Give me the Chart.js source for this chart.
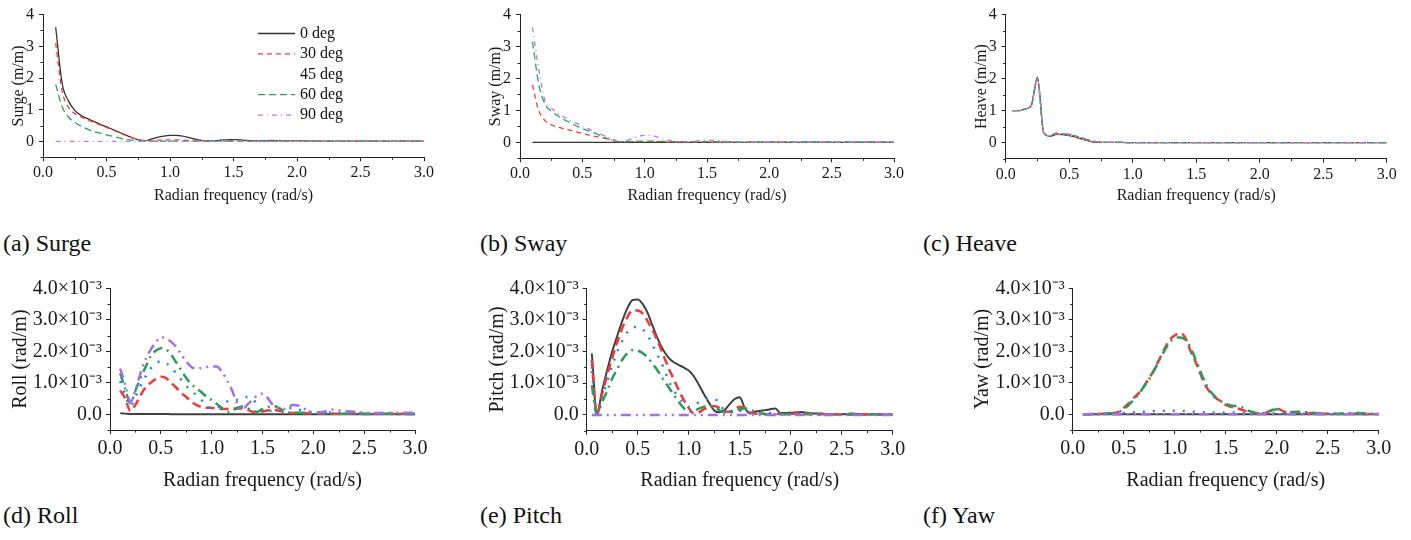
<!DOCTYPE html>
<html>
<head>
<meta charset="utf-8">
<script src="https://cdn.jsdelivr.net/npm/chart.js@4.4.0/dist/chart.umd.min.js"></script>
<style>
  html, body { margin: 0; padding: 0; background: #fff; }
  body { width: 1411px; height: 540px; position: relative; overflow: hidden;
         font-family: 'Liberation Serif', 'Times New Roman', serif; }
  .panel { position: absolute; }
  .cap { position: absolute; font-size: 24px; line-height: 24px; color: #111; white-space: nowrap; }
</style>
</head>
<body>
<div class="panel" id="pSurge"><canvas id="cSurge"></canvas></div>
<div class="panel" id="pSway"><canvas id="cSway"></canvas></div>
<div class="panel" id="pHeave"><canvas id="cHeave"></canvas></div>
<div class="panel" id="pRoll"><canvas id="cRoll"></canvas></div>
<div class="panel" id="pPitch"><canvas id="cPitch"></canvas></div>
<div class="panel" id="pYaw"><canvas id="cYaw"></canvas></div>

<div class="cap" style="left:3px;top:231px">(a) Surge</div>
<div class="cap" style="left:480px;top:231px">(b) Sway</div>
<div class="cap" style="left:923px;top:231px">(c) Heave</div>
<div class="cap" style="left:3px;top:503px">(d) Roll</div>
<div class="cap" style="left:480px;top:503px">(e) Pitch</div>
<div class="cap" style="left:923px;top:503px">(f) Yaw</div>

<script>
// headings
const degLabels = ['0 deg', '30 deg', '45 deg', '60 deg', '90 deg'];
const xTicks = [0, 0.5, 1, 1.5, 2, 2.5, 3];
const yTicksTop = [0, 1, 2, 3, 4];
const yTicksBottom = [0, 1, 2, 3, 4];   // in 10^-3 rad/m

// surge / sway (m/m)
const freqTop = [0.1,0.15,0.2,0.25,0.3,0.35,0.4,0.45,0.5,0.55, 0.6,0.65,0.7,0.75,0.8,0.85,0.9,0.95,1.0,1.05,
  1.1,1.15,1.2,1.25,1.3,1.35,1.4,1.45,1.5,1.55, 1.6,1.7,1.8,1.9,2.0,2.2,2.4,2.6,2.8,3.0];

const surge0  = [3.6,1.85,1.28,0.98,0.82,0.72,0.63,0.54,0.46,0.37, 0.29,0.2,0.12,0.05,0.02,0.07,0.13,0.17,0.19,0.19,
  0.17,0.12,0.07,0.03,0.02,0.02,0.04,0.05,0.06,0.05, 0.03,0.02,0.03,0.02,0.02,0.01,0.01,0.01,0.01,0.01];
const surge30 = [3.1,1.6,1.08,0.88,0.77,0.68,0.6,0.52,0.44,0.36, 0.28,0.2,0.12,0.06,0.03,0.03,0.04,0.05,0.05,0.05,
  0.04,0.03,0.02,0.02,0.01,0.01,0.02,0.02,0.02,0.02, 0.01,0.01,0.01,0.01,0.01,0.01,0.01,0.01,0.01,0.01];
const surge45 = [2.5,1.3,0.92,0.75,0.64,0.56,0.49,0.42,0.35,0.28, 0.21,0.15,0.09,0.04,0.02,0.02,0.02,0.03,0.03,0.03,
  0.02,0.02,0.01,0.01,0.01,0.01,0.01,0.01,0.01,0.01, 0.01,0.01,0.01,0.01,0.01,0.01,0.01,0.01,0.01,0.01];
const surge60 = [1.8,1.1,0.77,0.6,0.48,0.39,0.31,0.26,0.21,0.16, 0.11,0.07,0.04,0.02,0.01,0.01,0.01,0.01,0.01,0.01,
  0.01,0.01,0.01,0.01,0.01,0.01,0.01,0.01,0.01,0.01, 0.01,0.01,0.01,0.01,0.01,0.01,0.01,0.01,0.01,0.01];
const surge90 = [0,0,0,0,0,0,0,0,0,0, 0,0,0,0,0,0,0,0,0,0, 0,0,0,0,0,0,0,0,0,0, 0,0,0,0,0,0,0,0,0,0];

const sway0  = [0,0,0,0,0,0,0,0,0,0, 0,0,0,0,0,0,0,0,0,0, 0,0,0,0,0,0,0,0,0,0, 0,0,0,0,0,0,0,0,0,0];
const sway30 = [1.8,1.0,0.68,0.55,0.48,0.43,0.38,0.33,0.28,0.23, 0.19,0.15,0.1,0.05,0.02,0.02,0.02,0.02,0.02,0.02,
  0.02,0.02,0.01,0.01,0.01,0.01,0.01,0.01,0.01,0.01, 0.01,0.01,0.01,0.01,0.01,0.01,0.01,0.01,0.01,0.01];
const sway45 = [2.6,1.45,0.95,0.8,0.68,0.6,0.53,0.46,0.4,0.33, 0.26,0.19,0.12,0.06,0.02,0.03,0.06,0.1,0.12,0.11,
  0.09,0.06,0.03,0.02,0.02,0.02,0.03,0.03,0.03,0.02, 0.02,0.01,0.01,0.01,0.01,0.01,0.01,0.01,0.01,0.01];
const sway60 = [3.15,1.83,1.2,0.98,0.84,0.72,0.62,0.52,0.43,0.36, 0.29,0.2,0.12,0.06,0.02,0.02,0.03,0.04,0.04,0.04,
  0.03,0.03,0.02,0.02,0.02,0.02,0.02,0.02,0.02,0.02, 0.01,0.01,0.01,0.01,0.01,0.01,0.01,0.01,0.01,0.01];
const sway90 = [3.6,2.3,1.31,1.08,0.92,0.8,0.69,0.6,0.5,0.42, 0.33,0.25,0.17,0.09,0.02,0.05,0.12,0.19,0.22,0.21,
  0.17,0.11,0.06,0.03,0.03,0.03,0.04,0.05,0.06,0.06, 0.05,0.02,0.02,0.01,0.01,0.01,0.01,0.01,0.01,0.01];

// heave (m/m)
const freqHeave = [0.05,0.1,0.15,0.2,0.25,0.3,0.35,0.4,0.45,0.5,0.55,0.6,0.65,0.7,0.75,0.8,0.9,1.0,1.2,1.5,2.0,2.5,3.0];
const heave0  = [1.0,1.0,1.05,1.15,2.05,0.3,0.2,0.26,0.25,0.22,0.17,0.11,0.06,0.02,0.01,0.01,0.01,0,0,0,0,0,0];
const heave30 = [1.0,1.0,1.05,1.15,2.0,0.3,0.2,0.27,0.26,0.23,0.18,0.12,0.06,0.02,0.01,0.01,0.01,0,0,0,0,0,0];
const heave45 = [1.0,1.0,1.05,1.15,2.0,0.3,0.21,0.28,0.27,0.24,0.19,0.13,0.07,0.03,0.01,0.01,0.01,0,0,0,0,0,0];
const heave60 = [1.0,1.0,1.05,1.15,1.98,0.31,0.22,0.3,0.28,0.26,0.21,0.15,0.09,0.04,0.02,0.01,0.01,0,0,0,0,0,0];
const heave90 = [1.0,1.0,1.05,1.15,1.97,0.31,0.22,0.31,0.29,0.27,0.22,0.16,0.11,0.05,0.02,0.01,0.01,0,0,0,0,0,0];

// roll / yaw (10^-3 rad/m)
const freqRoll = [0.1,0.15,0.2,0.25,0.3,0.35,0.4,0.45,0.5,0.55, 0.6,0.65,0.7,0.75,0.8,0.85,0.9,0.95,1.0,1.05,
  1.1,1.15,1.2,1.25,1.3,1.35,1.4,1.45,1.5,1.55, 1.6,1.65,1.7,1.75,1.8,1.85,1.9,1.95,2.0,
  2.1,2.2,2.3,2.4,2.5,2.6,2.7,2.8,2.9,3.0];

const roll0  = [0.03,0.02,0.01,0.01,0.01,0.01,0.01,0.01,0.01,0.01, 0,0,0,0,0,0,0,0,0,0,
  0,0,0,0,0,0,0,0,0,0, 0,0,0,0,0,0,0,0,0, 0,0,0,0,0,0,0,0,0,0];
const roll30 = [0.75,0.5,0.1,0.3,0.6,0.85,1.0,1.12,1.19,1.15, 1.0,0.85,0.68,0.55,0.4,0.3,0.23,0.21,0.2,0.19,
  0.17,0.17,0.18,0.18,0.18,0.15,0.08,0.07,0.09,0.12, 0.14,0.12,0.08,0.05,0.04,0.04,0.03,0.03,0.03,
  0.02,0.02,0.02,0.02,0.02,0.02,0.02,0.02,0.02,0.02];
const roll45 = [1.05,0.6,0.25,0.55,0.9,1.2,1.45,1.62,1.68,1.62, 1.5,1.3,1.1,0.9,0.75,0.6,0.45,0.3,0.18,0.2,
  0.3,0.4,0.45,0.45,0.5,0.55,0.5,0.3,0.12,0.1, 0.12,0.15,0.18,0.2,0.2,0.15,0.12,0.09,0.07,
  0.06,0.05,0.04,0.03,0.02,0.02,0.02,0.01,0.01,0.01];
const roll60 = [1.3,0.8,0.35,0.75,1.15,1.5,1.85,2.02,2.1,2.06, 1.9,1.65,1.4,1.15,0.95,0.82,0.7,0.55,0.45,0.33,
  0.2,0.07,0.1,0.2,0.25,0.2,0.1,0.08,0.15,0.22, 0.28,0.22,0.12,0.06,0.04,0.05,0.05,0.05,0.05,
  0.04,0.02,0.02,0.02,0.01,0.01,0.02,0.01,0.01,0.01];
const roll90 = [1.45,0.95,0.39,0.76,1.3,1.75,2.05,2.28,2.44,2.42, 2.3,2.15,1.9,1.68,1.5,1.45,1.47,1.5,1.52,1.52,
  1.35,1.08,0.76,0.35,0.13,0.3,0.45,0.6,0.65,0.52, 0.3,0.2,0.15,0.22,0.29,0.28,0.2,0.1,0.05,
  0.08,0.15,0.1,0.08,0.05,0.04,0.04,0.05,0.05,0.05];

// pitch (10^-3 rad/m)
const freqPitch = [0.05, 0.1,0.15,0.2,0.25,0.3,0.35,0.4,0.45,0.5,0.55, 0.6,0.65,0.7,0.75,0.8,0.85,0.9,0.95,1.0,1.05,
  1.1,1.15,1.2,1.25,1.3,1.35,1.4,1.45,1.5,1.55, 1.6,1.65,1.7,1.75,1.8,1.85,1.9,1.95,2.0,
  2.1,2.2,2.3,2.4,2.5,2.6,2.7,2.8,2.9,3.0];
const pitch0  = [1.94, 0.02,0.75,1.4,2.0,2.5,2.98,3.38,3.63,3.65,3.5, 3.2,2.78,2.38,2.05,1.82,1.67,1.58,1.5,1.4,1.22,
  0.95,0.65,0.38,0.14,0.08,0.15,0.33,0.5,0.56,0.22, 0.05,0.1,0.13,0.15,0.18,0.2,0.06,0.06,0.07,
  0.09,0.05,0.04,0.02,0.02,0.04,0.01,0.03,0.01,0.01];
const pitch30 = [1.73, 0.02,0.65,1.25,1.8,2.3,2.75,3.1,3.3,3.3,3.2, 2.95,2.65,2.3,1.9,1.5,1.15,0.8,0.48,0.22,0.05,
  0.08,0.18,0.25,0.28,0.22,0.12,0.1,0.18,0.26,0.22, 0.08,0.04,0.03,0.02,0.02,0.02,0.03,0.03,0.03,
  0.06,0.03,0.02,0.02,0.01,0.02,0.01,0.02,0.01,0.01];
const pitch45 = [1.38, 0.02,0.55,1.05,1.55,2.0,2.35,2.62,2.77,2.78,2.7, 2.5,2.18,1.85,1.52,1.1,0.8,0.55,0.38,0.25,0.3,
  0.4,0.47,0.52,0.52,0.35,0.15,0.1,0.18,0.14,0.07, 0.05,0.04,0.04,0.05,0.06,0.05,0.03,0.02,0.03,
  0.03,0.02,0.02,0.01,0.01,0.01,0.01,0.01,0.01,0.01];
const pitch60 = [0.94, 0.02,0.4,0.75,1.15,1.45,1.75,1.95,2.05,2.03,1.95, 1.8,1.6,1.38,1.12,0.89,0.65,0.42,0.22,0.1,0.12,
  0.2,0.26,0.28,0.25,0.15,0.08,0.07,0.12,0.18,0.2, 0.17,0.1,0.05,0.03,0.02,0.02,0.02,0.02,0.02,
  0.02,0.02,0.01,0.01,0.01,0.01,0.01,0.01,0.01,0.01];
const pitch90 = [0, 0,0,0,0,0,0,0,0,0,0, 0,0,0,0,0,0,0,0,0,0, 0,0,0,0,0,0,0,0,0,0, 0,0,0,0,0,0,0,0,0,
  0,0,0,0,0,0,0,0,0,0];

const yaw0  = [0,0,0,0,0,0,0,0,0,0, 0,0,0,0,0,0,0,0,0,0, 0,0,0,0,0,0,0,0,0,0, 0,0,0,0,0,0,0,0,0, 0,0,0,0,0,0,0,0,0,0];
const yaw30 = [0,0,0.01,0.01,0.02,0.02,0.03,0.08,0.2,0.35, 0.52,0.68,0.9,1.15,1.42,1.75,2.08,2.36,2.5,2.58,
  2.45,2.05,1.7,1.3,0.92,0.68,0.52,0.42,0.3,0.24, 0.2,0.15,0.1,0.05,0.03,0.02,0.06,0.13,0.18,
  0.06,0.06,0.04,0.02,0.02,0.01,0.02,0.01,0.01,0.01];
const yaw45 = [0,0,0.01,0.01,0.01,0.02,0.02,0.03,0.04,0.05, 0.06,0.07,0.08,0.09,0.1,0.1,0.11,0.11,0.11,0.11,
  0.1,0.09,0.08,0.07,0.06,0.06,0.05,0.05,0.05,0.05, 0.06,0.05,0.04,0.03,0.03,0.03,0.03,0.03,0.03,
  0.02,0.02,0.02,0.01,0.01,0.01,0.01,0.01,0.01,0.01];
const yaw60 = [0,0,0.01,0.01,0.02,0.03,0.04,0.07,0.16,0.3, 0.47,0.66,0.88,1.12,1.4,1.72,2.02,2.28,2.42,2.44,
  2.38,2.15,1.78,1.38,1.0,0.72,0.55,0.42,0.33,0.28, 0.26,0.24,0.15,0.08,0.04,0.03,0.06,0.12,0.16,
  0.06,0.08,0.06,0.03,0.02,0.02,0.03,0.04,0.02,0.02];
const yaw90 = [0,0,0,0,0,0,0,0,0,0, 0,0,0,0,0,0,0,0,0,0, 0,0,0,0,0,0,0,0,0,0, 0,0,0,0,0,0,0,0,0, 0,0,0,0,0,0,0,0,0,0];

// line looks: thin in the top row, heavier in the bottom row
const topStyles = [
  { borderColor: '#333333', borderWidth: 1.3, borderDash: [] },
  { borderColor: '#ff3535', borderWidth: 1.3, borderDash: [5, 4] },
  { borderColor: '#ececf2', borderWidth: 1.3, borderDash: [1, 3] },
  { borderColor: '#2ca25f', borderWidth: 1.3, borderDash: [7, 4] },
  { borderColor: '#b07cf0', borderWidth: 1.3, borderDash: [5, 4, 1, 4] }
];
const bottomStyles = [
  { borderColor: '#404040', borderWidth: 2,   borderDash: [] },
  { borderColor: '#f03a3a', borderWidth: 2.5, borderDash: [9, 5] },
  { borderColor: '#2b7fe3', borderWidth: 2.5, borderDash: [2, 8] },
  { borderColor: '#2a9d5c', borderWidth: 2.5, borderDash: [10, 5, 2, 5] },
  { borderColor: '#a66ee6', borderWidth: 2.5, borderDash: [10, 5, 2, 5, 2, 5] }
];

Chart.defaults.font.family = "'Liberation Serif', 'Times New Roman', serif";
Chart.defaults.color = '#1a1a1a';
Chart.defaults.animation = false;

// short ticks between the labelled ones
const minorTicks = {
  id: 'minorTicks',
  afterDraw(chart, args, opts) {
    const ctx = chart.ctx, a = chart.chartArea;
    const xs = chart.scales.x, ys = chart.scales.y;
    ctx.save();
    ctx.strokeStyle = '#222';
    ctx.lineWidth = 1;
    ctx.beginPath();
    for (let k = Math.ceil(xs.min / opts.x); k * opts.x <= xs.max + 1e-9; k++) {
      if (k % 2 === 0) continue;
      const px = Math.round(xs.getPixelForValue(k * opts.x)) + 0.5;
      ctx.moveTo(px, a.bottom); ctx.lineTo(px, a.bottom + opts.len);
    }
    for (let k = Math.ceil(ys.min / opts.y); k * opts.y <= ys.max + 1e-9; k++) {
      if (Math.abs(k) % 2 === 0) continue;
      const py = Math.round(ys.getPixelForValue(k * opts.y)) + 0.5;
      ctx.moveTo(a.left - opts.len, py); ctx.lineTo(a.left, py);
    }
    ctx.stroke();
    ctx.restore();
  }
};

// legend drawn inside the surge plot
const insetLegend = {
  id: 'insetLegend',
  afterDatasetsDraw(chart, args, opts) {
    const ctx = chart.ctx;
    chart.data.datasets.forEach((ds, i) => {
      const y = opts.y + i * opts.dy;
      ctx.save();
      ctx.strokeStyle = ds.borderColor;
      ctx.lineWidth = ds.borderWidth;
      ctx.setLineDash(ds.borderDash);
      ctx.beginPath();
      ctx.moveTo(opts.x, y); ctx.lineTo(opts.x + opts.len, y);
      ctx.stroke();
      ctx.setLineDash([]);
      ctx.fillStyle = '#111';
      ctx.font = opts.font;
      ctx.textAlign = 'left';
      ctx.textBaseline = 'middle';
      ctx.fillText(ds.label, opts.x + opts.len + opts.gap, y);
      ctx.restore();
    });
  }
};

// box = panel rectangle on the page, area = plot frame on the page
const panels = [
  { id: 'Surge', title: 'Surge (m/m)', freq: freqTop, series: [surge0, surge30, surge45, surge60, surge90],
    row: 'top', box: [0, 0, 470, 215], area: [43, 13.3, 424, 157.3], titleX: 18.3, titleY: 196, legend: true },
  { id: 'Sway', title: 'Sway (m/m)', freq: freqTop, series: [sway0, sway30, sway45, sway60, sway90],
    row: 'top', box: [470, 0, 940, 215], area: [520, 13.3, 894, 158.3], titleX: 496, titleY: 196 },
  { id: 'Heave', title: 'Heave (m/m)', freq: freqHeave, series: [heave0, heave30, heave45, heave60, heave90],
    row: 'top', box: [940, 0, 1411, 215], area: [1005.7, 13.3, 1386.7, 158.7], titleX: 981.7, titleY: 196 },
  { id: 'Roll', title: 'Roll (rad/m)', freq: freqRoll, series: [roll0, roll30, roll45, roll60, roll90],
    row: 'bottom', box: [0, 262, 470, 500], area: [110, 288.3, 415, 430], titleX: 21, titleY: 481 },
  { id: 'Pitch', title: 'Pitch (rad/m)', freq: freqPitch, series: [pitch0, pitch30, pitch45, pitch60, pitch90],
    row: 'bottom', box: [470, 262, 940, 500], area: [586.7, 288.3, 892.7, 430.7], titleX: 497.5, titleY: 481 },
  { id: 'Yaw', title: 'Yaw (rad/m)', freq: freqRoll, series: [yaw0, yaw30, yaw45, yaw60, yaw90],
    row: 'bottom', box: [940, 262, 1411, 500], area: [1072.7, 288.3, 1378.7, 430], titleX: 982.5, titleY: 481 }
];

function buildPanel(p) {
  const top = p.row === 'top';
  const fs = top ? 16 : 20;
  const lh = fs * 1.2;
  const [bl, bt, br, bb] = p.box;
  const [al, at, ar, ab] = p.area;
  const holder = document.getElementById('p' + p.id);
  holder.style.left = bl + 'px';
  holder.style.top = bt + 'px';
  holder.style.width = (br - bl) + 'px';
  holder.style.height = (bb - bt) + 'px';

  const styles = top ? topStyles : bottomStyles;
  const datasets = p.series.map((vals, i) => ({
    label: degLabels[i],
    data: vals.map((v, k) => ({ x: p.freq[k], y: v })),
    borderColor: styles[i].borderColor,
    borderWidth: styles[i].borderWidth,
    borderDash: styles[i].borderDash,
    pointRadius: 0,
    fill: false,
    cubicInterpolationMode: 'monotone',
    order: 4 - i
  }));

  const yTickVals = top ? yTicksTop : yTicksBottom;
  const axisCommon = {
    border: { display: true, color: '#222', width: 1 },
    grid: { display: true, drawOnChartArea: false, drawTicks: true, tickLength: 4, tickColor: '#222' }
  };

  const plugins = [minorTicks];
  if (p.legend) plugins.push(insetLegend);

  new Chart(document.getElementById('c' + p.id), {
    type: 'line',
    data: { datasets },
    plugins,
    options: {
      responsive: true,
      maintainAspectRatio: false,
      events: [],
      layout: { padding: { left: 0, top: at - bt, right: br - ar, bottom: 0 } },
      plugins: {
        legend: { display: false },
        tooltip: { enabled: false },
        minorTicks: { x: 0.25, y: 0.5, len: 2.5 },
        insetLegend: { x: 258, y: 33.5, dy: 20.4, len: 37, gap: 5, font: "16px 'Liberation Serif', serif" }
      },
      scales: {
        x: {
          type: 'linear', min: 0, max: 3,
          ...axisCommon,
          afterFit: s => { s.height = bb - ab; },
          afterBuildTicks: s => { s.ticks = xTicks.map(v => ({ value: v })); },
          ticks: { font: { size: fs }, padding: top ? 2 : 3, maxRotation: 0, autoSkip: false,
                   callback: v => Number(v).toFixed(1) },
          title: { display: true, text: 'Radian frequency (rad/s)', font: { size: fs },
                   padding: { top: 0, bottom: (bb - p.titleY) - lh / 2 } }
        },
        y: {
          type: 'linear', min: -0.5, max: 4,
          ...axisCommon,
          afterFit: s => { s.width = al - bl; },
          afterBuildTicks: s => { s.ticks = yTickVals.map(v => ({ value: v })); },
          ticks: { font: { size: fs }, padding: top ? 5 : 4, autoSkip: false,
                   callback: v => top ? String(v) : (v === 0 ? '0.0' : Number(v).toFixed(1) + '×10⁻³') },
          title: { display: true, text: p.title, font: { size: fs },
                   padding: { top: (p.titleX - bl) - lh / 2, bottom: 0 } }
        }
      }
    }
  });
}

panels.forEach(buildPanel);
</script>
</body>
</html>
